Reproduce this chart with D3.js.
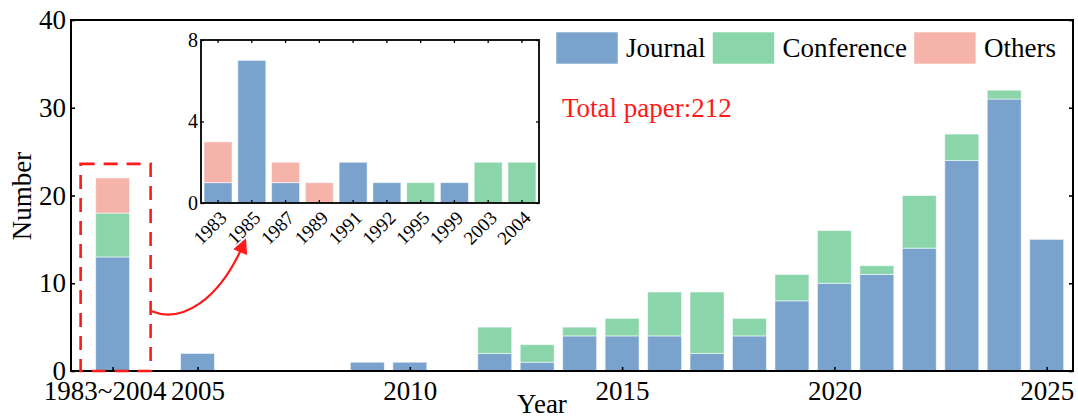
<!DOCTYPE html>
<html>
<head>
<meta charset="utf-8">
<script src="https://cdn.jsdelivr.net/npm/d3@7"></script>
<style>
  body { margin: 0; background: #fff; }
  svg { display: block; }
  text { font-family: "Liberation Serif", "Times New Roman", serif; fill: #000; }
</style>
</head>
<body>
<svg id="chart" width="1078" height="418"></svg>
<script>
// ---- data ----
const seriesNames = ["Journal", "Conference", "Others"];
const seriesColors = ["#79a3cd", "#8bd5aa", "#f6b3aa"];

// papers before 2005, broken down in the inset
const earlyYears = ["1983", "1985", "1987", "1989", "1991", "1992", "1995", "1999", "2003", "2004"];
const earlyJournal    = [1, 7, 1, 0, 2, 1, 0, 1, 0, 0];
const earlyConference = [0, 0, 0, 0, 0, 0, 1, 0, 2, 2];
const earlyOthers     = [2, 0, 1, 1, 0, 0, 0, 0, 0, 0];

// papers per year from 2005 on
const years      = [2005, 2009, 2010, 2012, 2013, 2014, 2015, 2016, 2017, 2018, 2019, 2020, 2021, 2022, 2023, 2024, 2025];
const journal    = [2, 1, 1, 2, 1, 4, 4, 4, 2, 4, 8, 10, 11, 14, 24, 31, 15];
const conference = [0, 0, 0, 3, 2, 1, 2, 5, 7, 2, 3, 6, 1, 6, 3, 1, 0];
const others     = [0, 0, 0, 0, 0, 0, 0, 0, 0, 0, 0, 0, 0, 0, 0, 0, 0];

const earlyLabel = "1983~2004";
const earlySlot = 2003;            // axis slot used by the combined early bar
const xTickYears = [2005, 2010, 2015, 2020, 2025];
const yTicks = [0, 10, 20, 30, 40];
const insetYTicks = [0, 4, 8];
const totalLabel = "Total paper:212";

// ---- layout ----
const svg = d3.select("#chart");
const M = { left: 71, right: 1073, top: 20, bottom: 371 };
const FONT = 27;

const x = d3.scaleLinear().domain([2002.02, 2025.62]).range([M.left, M.right]);
const y = d3.scaleLinear().domain([0, 40]).range([M.bottom, M.top]);
const barW = x(2000.8) - x(2000);

const mainRows = [{
  pos: earlySlot,
  Journal: d3.sum(earlyJournal),
  Conference: d3.sum(earlyConference),
  Others: d3.sum(earlyOthers)
}].concat(years.map((yr, i) => ({
  pos: yr, Journal: journal[i], Conference: conference[i], Others: others[i]
})));

const stack = d3.stack().keys(seriesNames);
const color = d3.scaleOrdinal().domain(seriesNames).range(seriesColors);

function drawStacks(g, layers, xf, yf, w) {
  g.selectAll("g.layer").data(layers).join("g")
    .attr("class", "layer")
    .attr("fill", d => color(d.key))
    .selectAll("rect").data(d => d.filter(v => v[1] > v[0])).join("rect")
    .attr("x", d => xf(d.data) - w / 2)
    .attr("y", d => yf(d[1]))
    .attr("width", w)
    .attr("height", d => yf(d[0]) - yf(d[1]))
    .attr("stroke", "#ffffff")
    .attr("stroke-opacity", 0.55)
    .attr("stroke-width", 1);
}

// main bars
drawStacks(svg.append("g"), stack(mainRows), d => x(d.pos), y, barW);

// main axes (ticks point inward)
const gx = svg.append("g").attr("transform", `translate(0,${M.bottom})`)
  .call(d3.axisBottom(x).tickValues([earlySlot].concat(xTickYears))
    .tickFormat(d => d === earlySlot ? earlyLabel : String(d))
    .tickSizeInner(-4).tickSizeOuter(0).tickPadding(10));
const gy = svg.append("g").attr("transform", `translate(${M.left},0)`)
  .call(d3.axisLeft(y).tickValues(yTicks).tickSizeInner(-4).tickSizeOuter(0).tickPadding(5));
const gyr = svg.append("g").attr("transform", `translate(${M.right},0)`)
  .call(d3.axisRight(y).tickValues(yTicks).tickSizeInner(-4).tickSizeOuter(0).tickFormat(""));
[gx, gy, gyr].forEach(g => {
  g.select(".domain").remove();
  g.selectAll(".tick line").attr("stroke", "#000").attr("stroke-width", 1.6);
  g.selectAll("text").attr("font-size", FONT).attr("font-family", null);
});
gx.selectAll(".tick text").filter(d => d === earlySlot).attr("dx", -8);

svg.append("rect")
  .attr("x", M.left).attr("y", M.top)
  .attr("width", M.right - M.left).attr("height", M.bottom - M.top)
  .attr("fill", "none").attr("stroke", "#000").attr("stroke-width", 2);

// axis titles
svg.append("text").attr("x", 542).attr("y", 413)
  .attr("text-anchor", "middle").attr("font-size", FONT).text("Year");
svg.append("text").attr("transform", `translate(31,196) rotate(-90)`)
  .attr("text-anchor", "middle").attr("font-size", FONT).text("Number");

// dashed frame around the early bar
const boxL = x(earlySlot) - 32, boxR = x(earlySlot) + 38, boxT = y(23.6), boxB = y(0);
svg.append("rect")
  .attr("x", boxL).attr("y", boxT).attr("width", boxR - boxL).attr("height", boxB - boxT)
  .attr("fill", "none").attr("stroke", "#ff1a1a").attr("stroke-width", 2.6)
  .attr("stroke-dasharray", "14 9");

// ---- inset ----
const I = { left: 201, right: 539, top: 40, bottom: 203 };
const xi = d3.scaleBand().domain(earlyYears).range([I.left, I.right])
  .paddingInner(0.17).paddingOuter(0.09);
const yi = d3.scaleLinear().domain([0, 8]).range([I.bottom, I.top]);
const inset = svg.append("g");
inset.append("rect").attr("x", I.left).attr("y", I.top)
  .attr("width", I.right - I.left).attr("height", I.bottom - I.top).attr("fill", "#fff");

const insetRows = earlyYears.map((yr, i) => ({
  year: yr, Journal: earlyJournal[i], Conference: earlyConference[i], Others: earlyOthers[i]
}));
drawStacks(inset.append("g"), stack(insetRows), d => xi(d.year) + xi.bandwidth() / 2, yi, xi.bandwidth());

const ixb = inset.append("g").attr("transform", `translate(0,${I.bottom})`)
  .call(d3.axisBottom(xi).tickSizeInner(-3).tickSizeOuter(0).tickFormat(""));
const ixt = inset.append("g").attr("transform", `translate(0,${I.top})`)
  .call(d3.axisTop(xi).tickSizeInner(-3).tickSizeOuter(0).tickFormat(""));
const iyl = inset.append("g").attr("transform", `translate(${I.left},0)`)
  .call(d3.axisLeft(yi).tickValues(insetYTicks).tickSizeInner(-3).tickSizeOuter(0).tickPadding(3));
const iyr = inset.append("g").attr("transform", `translate(${I.right},0)`)
  .call(d3.axisRight(yi).tickValues(insetYTicks).tickSizeInner(-3).tickSizeOuter(0).tickFormat(""));
[ixb, ixt, iyl, iyr].forEach(g => {
  g.select(".domain").remove();
  g.selectAll(".tick line").attr("stroke", "#000").attr("stroke-width", 1.3);
  g.selectAll("text").attr("font-size", 20).attr("font-family", null);
});

// rotated year labels under the inset
inset.append("g").selectAll("text").data(earlyYears).join("text")
  .attr("transform", d => `translate(${xi(d) + xi.bandwidth() / 2 + 10},${I.bottom + 16}) rotate(-45)`)
  .attr("text-anchor", "end")
  .attr("font-size", 19)
  .text(d => d);

inset.append("rect").attr("x", I.left).attr("y", I.top)
  .attr("width", I.right - I.left).attr("height", I.bottom - I.top)
  .attr("fill", "none").attr("stroke", "#000").attr("stroke-width", 1.8);

// curved arrow from the dashed frame to the inset
const defs = svg.append("defs");
defs.append("marker").attr("id", "arrowHead")
  .attr("viewBox", "0 0 10 10").attr("refX", 8).attr("refY", 5)
  .attr("markerWidth", 19).attr("markerHeight", 15)
  .attr("markerUnits", "userSpaceOnUse").attr("orient", "auto")
  .append("path").attr("d", "M0,0 L10,5 L0,10 Z").attr("fill", "#ff1a1a");

const aStart = [boxR + 1, y(6.8)];
const aEnd = [xi("1985") + xi.bandwidth() / 2 - 7, I.bottom + 38];
const arrow = d3.path();
arrow.moveTo(aStart[0], aStart[1]);
arrow.bezierCurveTo(aStart[0] + 30, aStart[1] + 12, aEnd[0] - 25, aEnd[1] + 60, aEnd[0], aEnd[1]);
svg.append("path").attr("d", arrow.toString())
  .attr("fill", "none").attr("stroke", "#ff1a1a").attr("stroke-width", 2.2)
  .attr("marker-end", "url(#arrowHead)");

// ---- legend ----
const legend = svg.append("g");
let lx = 556;
seriesNames.forEach((name, i) => {
  legend.append("rect").attr("x", lx).attr("y", 32).attr("width", 62).attr("height", 32)
    .attr("fill", seriesColors[i]).attr("stroke", "#fff").attr("stroke-opacity", 0.6);
  const t = legend.append("text").attr("x", lx + 70).attr("y", 57)
    .attr("font-size", FONT).text(name);
  lx += 70 + t.node().getComputedTextLength() + 7;
});

svg.append("text").attr("x", 562).attr("y", 117)
  .attr("font-size", FONT).style("fill", "#ff1a1a").text(totalLabel);
</script>
</body>
</html>
